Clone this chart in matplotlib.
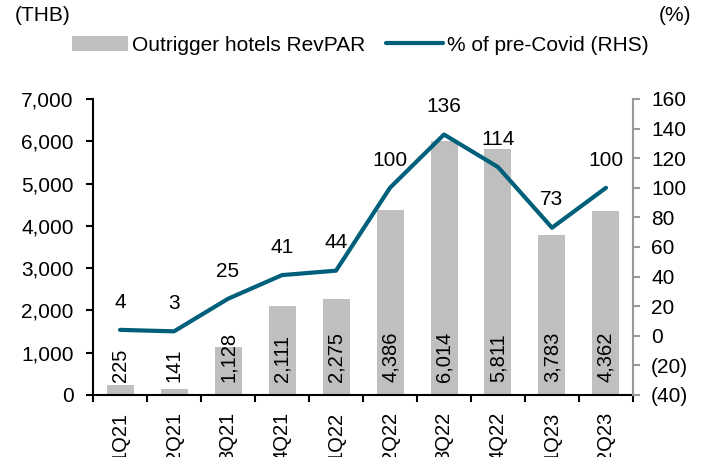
import numpy as np
import matplotlib
matplotlib.use("Agg")
import matplotlib.pyplot as plt

plt.rcParams["font.family"] = ["Liberation Sans", "DejaVu Sans"]
plt.rcParams["font.size"] = 15

quarters = ["1Q21", "2Q21", "3Q21", "4Q21", "1Q22", "2Q22", "3Q22", "4Q22", "1Q23", "2Q23"]
revpar = [225, 141, 1128, 2111, 2275, 4386, 6014, 5811, 3783, 4362]
pct_pre_covid = [4, 3, 25, 41, 44, 100, 136, 114, 73, 100]

BAR_COLOR = "#BFBFBF"
LINE_COLOR = "#005F7A"

fig = plt.figure(figsize=(7.02, 4.57), dpi=100)
ax = fig.add_axes([0.1325, 0.1357, 0.7692, 0.6477])
ax2 = ax.twinx()

x = np.arange(len(quarters))
bars = ax.bar(x, revpar, width=0.5, color=BAR_COLOR, label="Outrigger hotels RevPAR", zorder=1)
line, = ax2.plot(x, pct_pre_covid, color=LINE_COLOR, lw=3, solid_capstyle="round",
                 label="% of pre-Covid (RHS)", zorder=3)

# bar value labels, rotated, sitting near the base
for xi, v in zip(x, revpar):
    ax.text(xi, 300, f"{v:,}", rotation=90, ha="center", va="bottom", fontsize=14.5)

# line value labels
for xi, v in zip(x, pct_pre_covid):
    ax2.annotate(f"{v}", (xi, v), xytext=(0, 20), textcoords="offset points",
                 ha="center", va="center")

ax.set_xlim(-0.5, len(quarters) - 0.5)
ax.set_ylim(0, 7000)
ax.set_yticks(np.arange(0, 7001, 1000))
ax.set_yticklabels([f"{v:,}" for v in range(0, 7001, 1000)])
ax2.set_ylim(-40, 160)
ax2.set_yticks(np.arange(-40, 161, 20))
ax2.set_yticklabels([f"({-v})" if v < 0 else f"{v}" for v in range(-40, 161, 20)])

ax.set_xticks(x)
ax.set_xticklabels(quarters, rotation=90, va="top", fontsize=14.5)
ax.set_xticks(np.arange(-0.5, len(quarters), 1), minor=True)
ax.tick_params(axis="x", which="major", length=0, pad=12)
ax.tick_params(axis="x", which="minor", length=5, width=1.5, direction="out")
ax.tick_params(axis="y", length=5, width=1.5, pad=9)
ax2.tick_params(axis="y", length=5, width=1.5, color="#999999", pad=8)

for s in ["top", "right"]:
    ax.spines[s].set_visible(False)
ax.spines["left"].set_linewidth(1.5)
ax.spines["bottom"].set_linewidth(1.5)
ax2.spines["top"].set_visible(False)
ax2.spines["left"].set_visible(False)
ax2.spines["bottom"].set_visible(False)
ax2.spines["right"].set_color("#999999")
ax2.spines["right"].set_linewidth(1.5)

ax.set_zorder(ax2.get_zorder() - 1)
ax2.patch.set_visible(False)

fig.text(0.021, 0.965, "(THB)", ha="left", va="center")
fig.text(0.985, 0.965, "(%)", ha="right", va="center")

fig.legend(handles=[bars, line], loc="center", bbox_to_anchor=(0.513, 0.9015), ncol=2,
           frameon=False, borderpad=0, handlelength=2.7, handletextpad=0.2,
           columnspacing=1.0)

fig.savefig("out.png", dpi=100)
